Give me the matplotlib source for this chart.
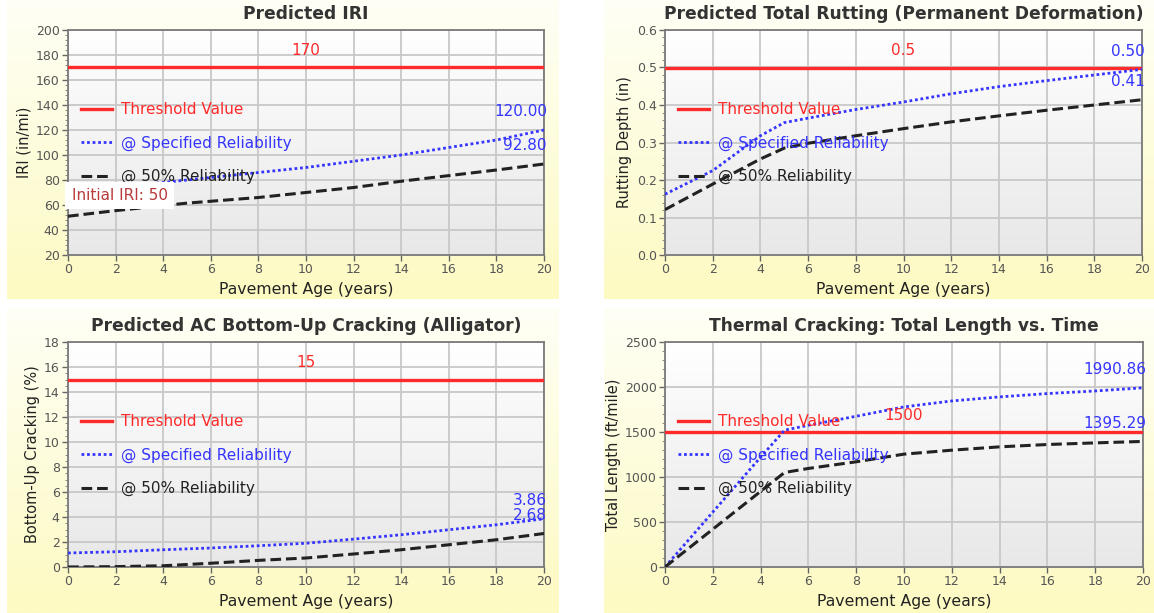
import numpy as np
import matplotlib
matplotlib.use("Agg")
import matplotlib.pyplot as plt
from matplotlib.ticker import MultipleLocator, AutoMinorLocator
from matplotlib.colors import LinearSegmentedColormap

# ---- data ----
ages = [0, 2, 4, 5, 6, 8, 10, 12, 14, 16, 18, 20]

iri_spec = [70, 74, 78, 80, 82, 86, 90, 95, 100, 106, 112, 120.00]
iri_50 = [51, 55.5, 59.5, 61.5, 63, 66, 70, 74, 79, 83.5, 88, 92.80]
iri_threshold = 170
iri_initial = 50

rut_spec = [0.162, 0.225, 0.318, 0.353, 0.365, 0.388, 0.408, 0.43, 0.449, 0.465, 0.48, 0.495]
rut_50 = [0.121, 0.189, 0.256, 0.285, 0.298, 0.318, 0.337, 0.355, 0.371, 0.386, 0.40, 0.414]
rut_threshold = 0.5

alg_spec = [1.12, 1.22, 1.38, 1.45, 1.52, 1.70, 1.90, 2.23, 2.58, 2.98, 3.38, 3.86]
alg_50 = [0.0, 0.03, 0.10, 0.20, 0.30, 0.53, 0.72, 1.04, 1.38, 1.78, 2.18, 2.68]
alg_threshold = 15

thc_spec = [0, 610, 1220, 1520, 1575, 1675, 1779, 1845, 1890, 1927, 1956, 1990.86]
thc_50 = [0, 420, 840, 1050, 1095, 1169, 1254, 1298, 1335, 1361, 1379, 1395.29]
thc_threshold = 1500

RED = "#ff2a2a"
BLUE = "#3535ff"
BLACK = "#222222"

W, H = 1154, 613
fig = plt.figure(figsize=(W / 100, H / 100), dpi=100)
fig.patch.set_facecolor("white")

panel_cmap = LinearSegmentedColormap.from_list("panel", ["#fffff6", "#fdfac2"])
plot_cmap = LinearSegmentedColormap.from_list("plot", ["#ffffff", "#e8e8e8"])
grad = np.linspace(0, 1, 256).reshape(-1, 1)


def px(x0, y0, x1, y1):
    return [x0 / W, 1 - y1 / H, (x1 - x0) / W, (y1 - y0) / H]


def panel(rect):
    bg = fig.add_axes(px(*rect), zorder=0)
    bg.imshow(grad, aspect="auto", cmap=panel_cmap, extent=[0, 1, 0, 1])
    bg.set_axis_off()


def chart(rect, title, ylabel, spec, fifty, thr, ylim, ymajor, yminor, thr_lbl, spec_lbl, fifty_lbl):
    ax = fig.add_axes(px(*rect), zorder=2)
    ax.imshow(grad, aspect="auto", cmap=plot_cmap, extent=[0, 1, 0, 1],
              transform=ax.transAxes, zorder=0)
    ax.set_xlim(0, 20)
    ax.set_ylim(*ylim)
    ax.xaxis.set_major_locator(MultipleLocator(2))
    ax.yaxis.set_major_locator(MultipleLocator(ymajor))
    ax.yaxis.set_minor_locator(AutoMinorLocator(yminor))
    ax.grid(True, which="major", color="#c8c8c8", lw=1.3, zorder=1)
    for s in ax.spines.values():
        s.set_color("#7a7a7a")
        s.set_linewidth(1.3)
    ax.tick_params(axis="both", which="major", labelsize=9, colors="#666666",
                   labelcolor="#555555", length=4, width=1, pad=2)
    ax.tick_params(axis="y", which="minor", length=2.5, colors="#777777")
    ax.set_title(title, fontsize=12.3, fontweight="bold", color="#333333", pad=8)
    ax.set_xlabel("Pavement Age (years)", fontsize=11.3, color="#222222", labelpad=4)
    ax.set_ylabel(ylabel, fontsize=10.5, color="#222222", labelpad=3)

    ax.plot([0, 20], [thr, thr], color=RED, lw=2.4, label="Threshold Value", zorder=3)
    ax.plot(ages, spec, color=BLUE, lw=2.0, linestyle=(0, (1, 1)),
            label="@ Specified Reliability", zorder=4)
    ax.plot(ages, fifty, color=BLACK, lw=2.2, linestyle=(0, (3.5, 1.6)),
            label="@ 50% Reliability", zorder=4)

    ax.annotate(thr_lbl, (10, thr), xytext=(0, 17), textcoords="offset pixels",
                ha="center", va="center", fontsize=11, color=RED, zorder=5)
    for lbl, yv in ((spec_lbl, spec[-1]), (fifty_lbl, fifty[-1])):
        t = ax.annotate(lbl, (20, yv), xytext=(3, 18), textcoords="offset pixels",
                        ha="right", va="center", fontsize=11, color=BLUE, zorder=5,
                        annotation_clip=False)
        t.set_clip_on(True)

    leg = ax.legend(loc="upper left", bbox_to_anchor=(0.0, 0.736), frameon=False,
                    fontsize=11, labelcolor="linecolor", handlelength=2.0,
                    handletextpad=0.6, labelspacing=1.2, borderaxespad=0.45)
    leg.set_zorder(6)
    return ax


panel((7, 0, 559, 299))
panel((604, 0, 1154, 299))
panel((7, 308, 559, 613))
panel((604, 308, 1154, 613))

ax1 = chart((68, 30, 544, 255), "Predicted IRI", "IRI (in/mi)", iri_spec, iri_50,
            iri_threshold, (20, 200), 20, 5, "170", "120.00", "92.80")
ax1.text(0.15, 67.5, "Initial IRI: %d" % iri_initial, fontsize=11, color="#b83a3a",
         ha="left", va="center", zorder=7,
         bbox=dict(facecolor="white", edgecolor="none", pad=4.5))

chart((665, 30, 1142, 255), "Predicted Total Rutting (Permanent Deformation)",
      "Rutting Depth (in)", rut_spec, rut_50, rut_threshold, (0, 0.6), 0.1, 5,
      "0.5", "0.50", "0.41")

chart((68, 342, 544, 567), "Predicted AC Bottom-Up Cracking (Alligator)",
      "Bottom-Up Cracking (%)", alg_spec, alg_50, alg_threshold, (0, 18), 2, 4,
      "15", "3.86", "2.68")

chart((665, 342, 1143, 567), "Thermal Cracking: Total Length vs. Time",
      "Total Length (ft/mile)", thc_spec, thc_50, thc_threshold, (0, 2500), 500, 5,
      "1500", "1990.86", "1395.29")

fig.savefig("out.png", dpi=100)
